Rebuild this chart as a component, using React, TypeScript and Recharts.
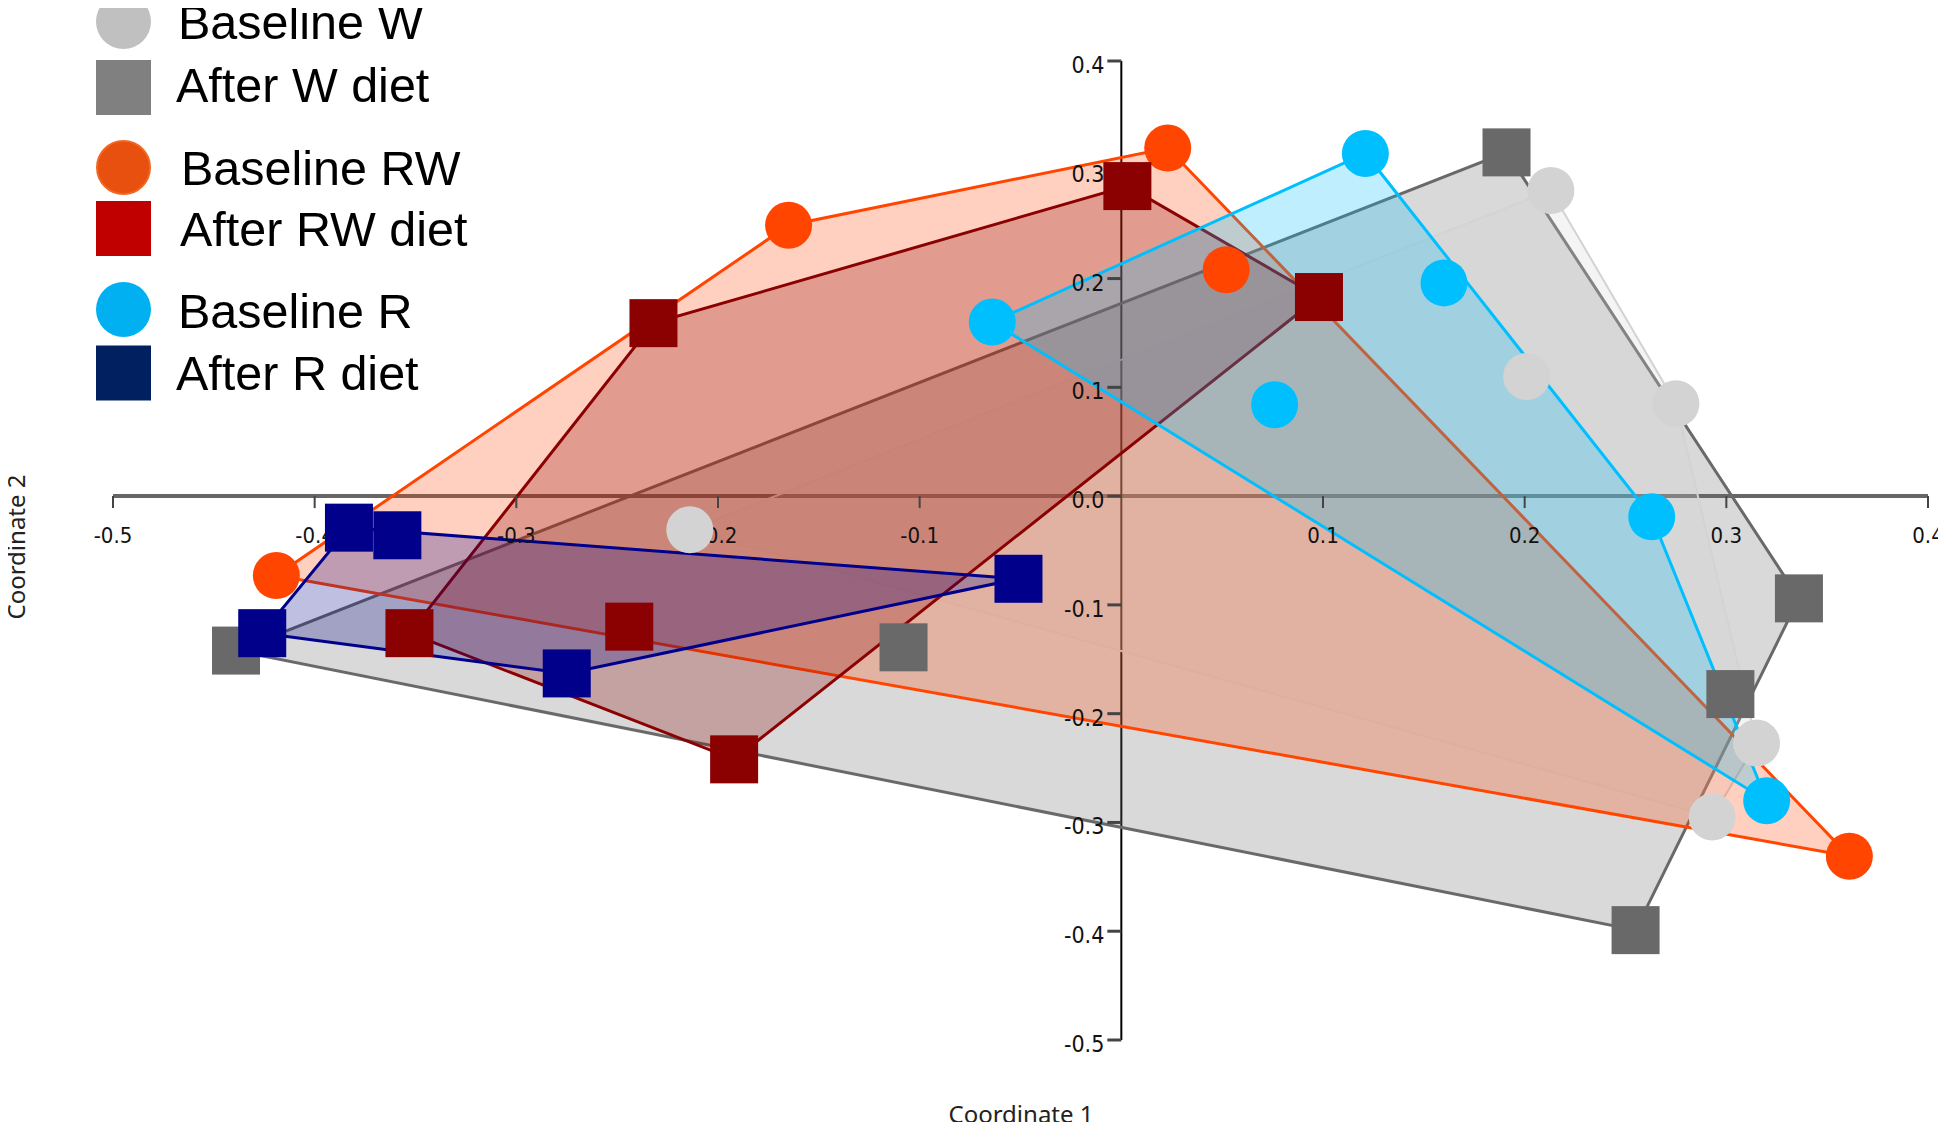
import React from "react";
import {
  ReferenceDot,
  ReferenceLine,
  Scatter,
  ScatterChart,
  XAxis,
  YAxis,
} from "recharts";

type Pt = { x: number; y: number };

// PCoA coordinates
const baselineW: Pt[] = [
  { x: -0.214, y: -0.031 },
  { x: 0.213, y: 0.281 },
  { x: 0.201, y: 0.11 },
  { x: 0.275, y: 0.085 },
  { x: 0.315, y: -0.227 },
  { x: 0.293, y: -0.295 },
];
const afterW: Pt[] = [
  { x: -0.439, y: -0.142 },
  { x: -0.108, y: -0.139 },
  { x: 0.191, y: 0.316 },
  { x: 0.336, y: -0.094 },
  { x: 0.302, y: -0.182 },
  { x: 0.255, y: -0.399 },
];
const baselineRW: Pt[] = [
  { x: -0.419, y: -0.073 },
  { x: -0.165, y: 0.249 },
  { x: 0.023, y: 0.32 },
  { x: 0.052, y: 0.208 },
  { x: 0.361, y: -0.331 },
];
const afterRW: Pt[] = [
  { x: -0.232, y: 0.159 },
  { x: 0.003, y: 0.285 },
  { x: 0.098, y: 0.183 },
  { x: -0.353, y: -0.126 },
  { x: -0.244, y: -0.12 },
  { x: -0.192, y: -0.242 },
];
const baselineR: Pt[] = [
  { x: -0.064, y: 0.16 },
  { x: 0.121, y: 0.315 },
  { x: 0.16, y: 0.196 },
  { x: 0.076, y: 0.084 },
  { x: 0.263, y: -0.019 },
  { x: 0.32, y: -0.28 },
];
const afterR: Pt[] = [
  { x: -0.383, y: -0.029 },
  { x: -0.359, y: -0.036 },
  { x: -0.051, y: -0.076 },
  { x: -0.275, y: -0.163 },
  { x: -0.426, y: -0.126 },
];

const xTicks = [-0.5, -0.4, -0.3, -0.2, -0.1, 0.1, 0.2, 0.3, 0.4];
const yTicks = [0.4, 0.3, 0.2, 0.1, 0.0, -0.1, -0.2, -0.3, -0.4, -0.5];
const legendLabels = [
  "Baseline W",
  "After W diet",
  "Baseline RW",
  "After RW diet",
  "Baseline R",
  "After R diet",
];

const groups = [
  { data: afterW, color: "#696969", shape: "square", lineW: 3 },
  { data: baselineW, color: "#d3d3d3", shape: "circle", lineW: 2 },
  { data: baselineRW, color: "#ff4500", shape: "circle", lineW: 3 },
  { data: afterRW, color: "#8b0000", shape: "square", lineW: 3 },
  { data: baselineR, color: "#00bfff", shape: "circle", lineW: 3 },
  { data: afterR, color: "#00008b", shape: "square", lineW: 3 },
];

const legendItems = [
  { shape: "circle", color: "#c0c0c0" },
  { shape: "square", color: "#808080" },
  { shape: "circle", color: "#e8500f" },
  { shape: "square", color: "#c00000" },
  { shape: "circle", color: "#00b0f0" },
  { shape: "square", color: "#002060" },
];

// convex hull (monotone chain)
function hull(pts: Pt[]): Pt[] {
  const p = [...pts].sort((a, b) => a.x - b.x || a.y - b.y);
  const cross = (o: Pt, a: Pt, b: Pt) =>
    (a.x - o.x) * (b.y - o.y) - (a.y - o.y) * (b.x - o.x);
  const lower: Pt[] = [];
  for (const q of p) {
    while (lower.length >= 2 && cross(lower[lower.length - 2], lower[lower.length - 1], q) <= 0) lower.pop();
    lower.push(q);
  }
  const upper: Pt[] = [];
  for (const q of [...p].reverse()) {
    while (upper.length >= 2 && cross(upper[upper.length - 2], upper[upper.length - 1], q) <= 0) upper.pop();
    upper.push(q);
  }
  return lower.slice(0, -1).concat(upper.slice(0, -1));
}

const tickFont = "'Liberation Sans Narrow', 'DejaVu Sans Condensed', sans-serif";

const Empty = () => <g />;

function marker(shape: string, color: string) {
  return (p: any) =>
    shape === "circle" ? (
      <circle cx={p.cx} cy={p.cy} r={23.5} fill={color} />
    ) : (
      <rect x={p.cx - 24} y={p.cy - 24} width={48} height={48} fill={color} />
    );
}

export default function App() {
  return (
    <div style={{ position: "relative", width: 1938, height: 1114 }}>
      <ScatterChart
        width={1938}
        height={1114}
        margin={{ top: 53, right: 18, bottom: 82, left: 105 }}
      >
        <XAxis type="number" dataKey="x" domain={[-0.5, 0.4]} hide />
        <YAxis type="number" dataKey="y" domain={[-0.5, 0.4]} hide />
        {groups.map((g, i) => (
          <Scatter
            key={"hull" + i}
            data={hull(g.data)}
            shape={Empty}
            line={{
              stroke: g.color,
              strokeWidth: g.lineW,
              fill: g.color,
              fillOpacity: 0.25,
            }}
            lineType="joint"
            lineJointType="linearClosed"
            isAnimationActive={false}
          />
        ))}
        <ReferenceLine y={0} stroke="#555" strokeOpacity={0.9} strokeWidth={4} />
        <ReferenceLine x={0} stroke="#000" strokeWidth={2} />
        {xTicks.map((v) => (
          <ReferenceDot
            key={"xt" + v}
            x={v}
            y={0}
            r={1}
            shape={(p: any) => (
              <g>
                <line x1={p.cx} x2={p.cx} y1={p.cy} y2={p.cy + 12} stroke="#444" strokeWidth={2} />
                <text x={p.cx} y={p.cy + 47} textAnchor="middle" fontSize={22} fontFamily={tickFont} fill="#111">
                  {v.toFixed(1)}
                </text>
              </g>
            )}
          />
        ))}
        {yTicks.map((v) => (
          <ReferenceDot
            key={"yt" + v}
            x={0}
            y={v}
            r={1}
            shape={(p: any) => (
              <g>
                <line x1={p.cx - 14} x2={p.cx} y1={p.cy} y2={p.cy} stroke="#444" strokeWidth={3} />
                <text x={p.cx - 17} y={p.cy + 12} textAnchor="end" fontSize={23} fontFamily={tickFont} fill="#111">
                  {v.toFixed(1)}
                </text>
              </g>
            )}
          />
        ))}
        {groups.map((g, i) => (
          <Scatter
            key={"pts" + i}
            data={g.data}
            shape={marker(g.shape, g.color)}
            isAnimationActive={false}
          />
        ))}
      </ScatterChart>
      <svg
        width={1946}
        height={1130}
        style={{ position: "absolute", left: -8, top: -8, pointerEvents: "none" }}
      >
        {legendItems.map((it, i) => {
          const cy = [21.5, 87.5, 167.5, 228.5, 309.5, 373][i];
          const ty = [39, 102, 185, 246, 328, 390][i];
          const tx = [178, 176, 181, 180, 178, 176][i];
          return (
            <g key={i}>
              {it.shape === "circle" ? (
                <circle
                  cx={123.5}
                  cy={cy}
                  r={i === 2 ? 26.5 : 27.5}
                  fill={it.color}
                  stroke={i === 2 ? "#f26522" : "none"}
                  strokeWidth={i === 2 ? 2 : 0}
                />
              ) : (
                <rect x={96} y={cy - 27.5} width={55} height={55} fill={it.color} />
              )}
              <text x={tx} y={ty} fontSize={48.5} fontFamily="'Liberation Sans', Arial, sans-serif" fill="#000">
                {legendLabels[i]}
              </text>
            </g>
          );
        })}
        <text x={1021} y={1123} textAnchor="middle" fontSize={24} fontFamily="'Noto Sans', sans-serif" fill="#222">
          Coordinate 1
        </text>
        <text
          transform="translate(25,547) rotate(-90)"
          textAnchor="middle"
          fontSize={24}
          fontFamily="'Noto Sans', sans-serif"
          fill="#222"
        >
          Coordinate 2
        </text>
      </svg>
    </div>
  );
}
